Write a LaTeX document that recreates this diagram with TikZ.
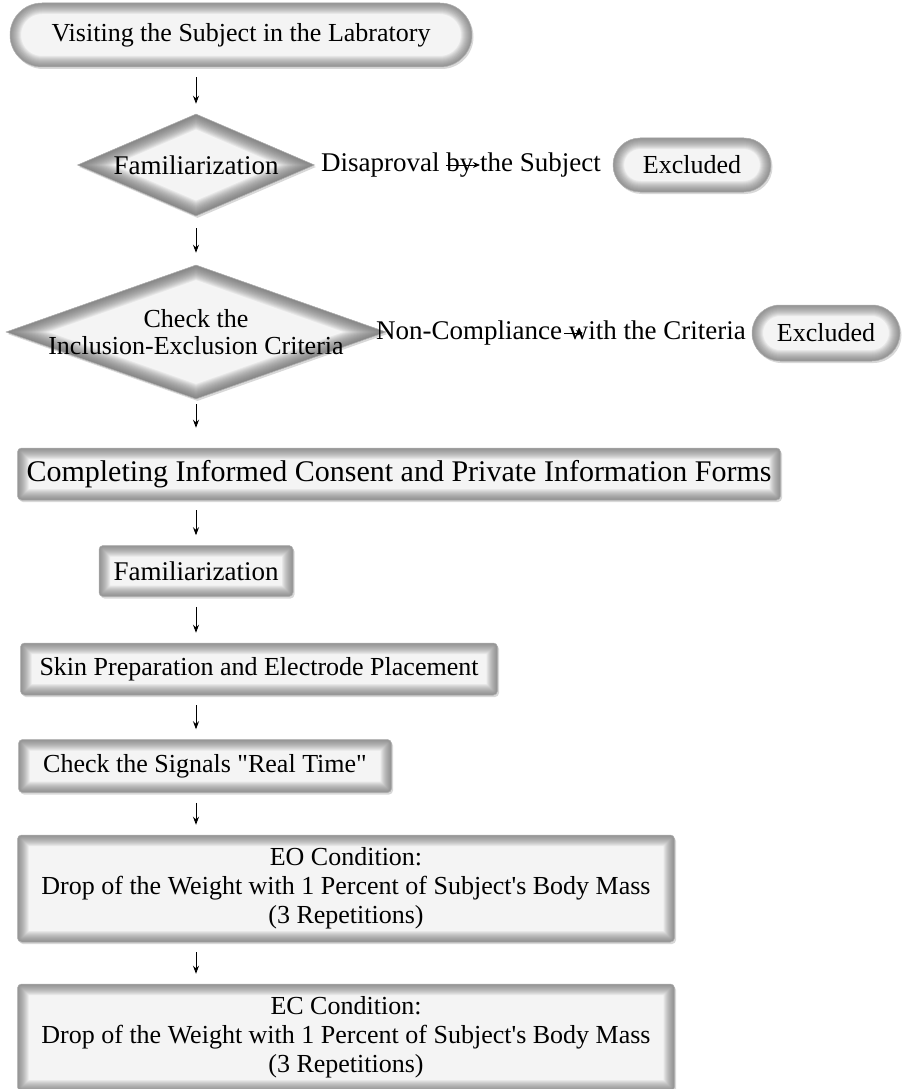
\documentclass[tikz,border=0pt]{standalone}
\usepackage{fontspec}
\setmainfont{Liberation Serif}[Ligatures=TeXOff]
\usetikzlibrary{shapes.geometric,shapes.misc,shadows,arrows.meta}

\tikzset{
  glowrect/.style={path picture={
    \foreach \w in {2,4,...,22}{
      \draw[black!60, line width=\w pt, opacity=0.09, rounded corners=#1]
        (path picture bounding box.south west) rectangle (path picture bounding box.north east);}
  }},
  glowdia/.style={path picture={
    \foreach \w in {2,4,...,28}{
      \draw[black!60, line width=\w pt, opacity=0.09]
        (path picture bounding box.north) -- (path picture bounding box.east) --
        (path picture bounding box.south) -- (path picture bounding box.west) -- cycle;}
  }},
  shade/.style={drop shadow={opacity=0.3, shadow xshift=1.5pt, shadow yshift=-2pt}},
  box/.style={rectangle, rounded corners=4pt, fill=gray!9, draw=gray!60, line width=0.5pt,
    inner sep=0pt, align=center, shade, glowrect=4pt, font=\fontsize{26}{29}\selectfont},
  term/.style={rounded rectangle, fill=gray!9, draw=gray!60, line width=0.5pt,
    inner sep=0pt, align=center, shade, font=\fontsize{26}{29}\selectfont},
  dia/.style={diamond, fill=gray!9, draw=gray!60, line width=0.5pt, inner sep=0pt,
    shade, glowdia},
  txt/.style={inner sep=0pt, align=center, font=\fontsize{26}{29}\selectfont},
  arr/.style={-{Stealth[length=8pt,width=6pt]}, line width=0.9pt, black,
    shorten <=10pt, shorten >=10pt},
  harr/.style={-{Stealth[length=7pt,width=6pt]}, line width=0.9pt, black},
}

\begin{document}
\begin{tikzpicture}[x=1pt,y=-1pt]
\useasboundingbox (0,0) rectangle (905,1089);
\fill[white] (0,0) rectangle (905,1089);
\clip (0,0) rectangle (905,1089);

% top terminal
\node[term, glowrect=32pt, minimum width=462pt, minimum height=64pt] (visit) at (241,35)
  {Visiting the Subject in the Labratory};

% first decision
\node[dia, minimum width=237pt, minimum height=102pt] (dia1) at (196,165) {};
\node[txt, font=\fontsize{27}{29}\selectfont] (dia1t) at (dia1.center) {Familiarization};
\node[txt, font=\fontsize{27}{29}\selectfont] (lab1) at (461,165) {Disaproval by the Subject};
\node[term, glowrect=27pt, minimum width=158pt, minimum height=54pt] (ex1) at (692,165) {Excluded};
\coordinate (h1a) at (446,165);
\coordinate (h1b) at (480,165);
\draw[harr] (h1a) -- (h1b);

% second decision
\node[dia, minimum width=380pt, minimum height=134pt] (dia2) at (196,332) {};
\node[txt, font=\fontsize{26}{27}\selectfont] (dia2t) at (dia2.center)
  {Check the\\Inclusion-Exclusion Criteria};
\node[txt, font=\fontsize{27}{29}\selectfont] (lab2) at (561,333) {Non-Compliance with the Criteria};
\node[term, glowrect=28pt, minimum width=148pt, minimum height=56pt] (ex2) at (826,333) {Excluded};
\coordinate (h2a) at (564,333);
\coordinate (h2b) at (583,333);
\draw[harr] (h2a) -- (h2b);

% process boxes
\node[box, font=\fontsize{30}{32}\selectfont, minimum width=763pt, minimum height=52pt] (consent) at (399,474)
  {Completing Informed Consent and Private Information Forms};
\node[box, font=\fontsize{27}{29}\selectfont, minimum width=194pt, minimum height=51pt] (fam) at (196,571) {Familiarization};
\node[box, minimum width=477pt, minimum height=52pt] (skin) at (259,669)
  {Skin Preparation and Electrode Placement};
\node[box, minimum width=373pt, minimum height=53pt] (signal) at (205,766)
  {Check the Signals "Real Time"};
\node[box, minimum width=657pt, minimum height=107pt] (eo) at (346,888.5)
  {EO Condition:\\Drop of the Weight with 1 Percent of Subject's Body Mass\\(3 Repetitions)};
\node[box, minimum width=657pt, minimum height=107pt] (ec) at (346,1037.5)
  {EC Condition:\\Drop of the Weight with 1 Percent of Subject's Body Mass\\(3 Repetitions)};

% vertical connectors
\coordinate (ax) at (196,0);
\draw[arr] (ax |- visit.south) -- (ax |- dia1.north);
\draw[arr, shorten <=12pt, shorten >=12pt] (ax |- dia1.south) -- (ax |- dia2.north);
\draw[arr, shorten <=5pt, shorten >=20pt] (ax |- dia2.south) -- (ax |- consent.north);
\draw[arr] (ax |- consent.south) -- (ax |- fam.north);
\draw[arr] (ax |- fam.south) -- (ax |- skin.north);
\draw[arr] (ax |- skin.south) -- (ax |- signal.north);
\draw[arr] (ax |- signal.south) -- (ax |- eo.north);
\draw[arr] (ax |- eo.south) -- (ax |- ec.north);
\end{tikzpicture}
\end{document}
